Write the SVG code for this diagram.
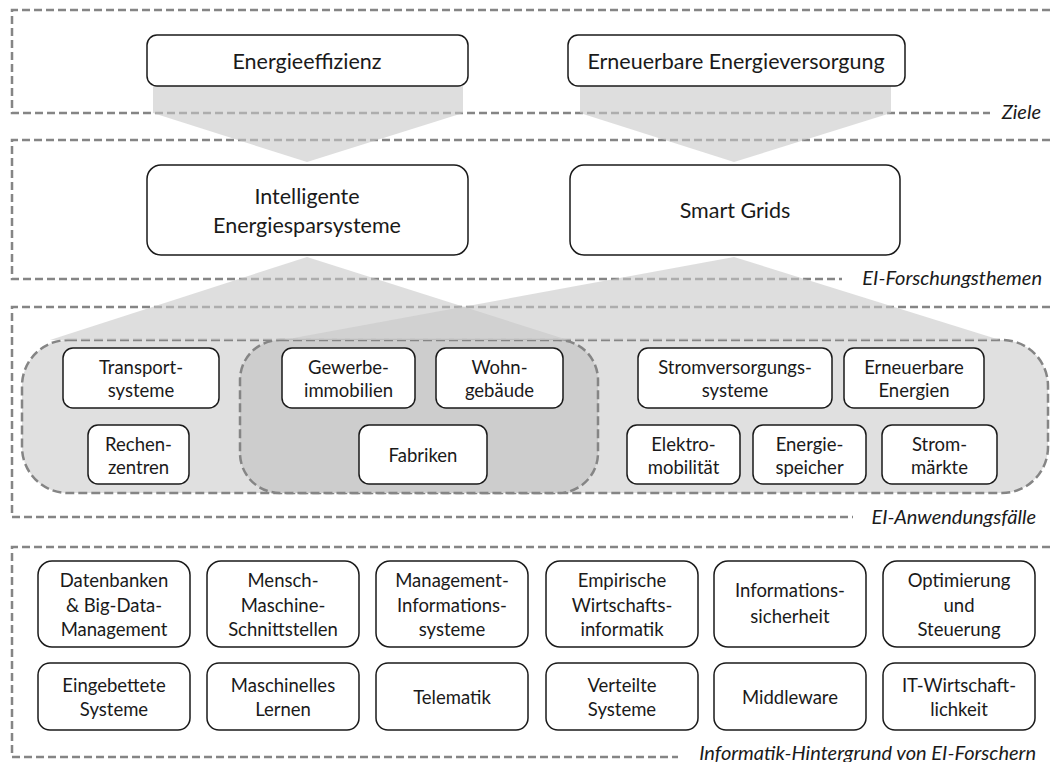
<svg xmlns="http://www.w3.org/2000/svg" width="1050" height="762" viewBox="0 0 1050 762">
<style>
.band{fill:none;stroke:#858585;stroke-width:2.5;stroke-dasharray:8 4}
.cont{stroke:#858585;stroke-width:2.5;stroke-dasharray:9 4}
.box{fill:#fff;stroke:#1a1a1a;stroke-width:1.5}
.flow{fill:#c8c8c8;fill-opacity:0.6}
text{font-family:Lato,"Liberation Sans",sans-serif;fill:#1a1a1a;text-anchor:middle}
.big{font-size:21.5px}
.sm{font-size:18.5px}
.lbl{font-size:20px;font-style:italic;text-anchor:end}
</style>
<rect width="1050" height="762" fill="#fff"/>
<g id="bands">
<path class="band" d="M1050,10 H12 V113 H990"/>
<text class="lbl" x="1041" y="119">Ziele</text>
<path class="band" d="M1050,140 H12 V279 H842"/>
<text class="lbl" x="1042" y="285">EI-Forschungsthemen</text>
<path class="band" d="M1050,307 H12 V517 H853"/>
<text class="lbl" x="1036" y="524">EI-Anwendungsfälle</text>
<path class="band" d="M1050,547 H12 V757 H678"/>
<text class="lbl" x="1036" y="760">Informatik-Hintergrund von EI-Forschern</text>
</g>
<g id="containers">
<rect id="cont-all" class="cont" x="22" y="340" width="1026" height="153" rx="46" fill="#e0e0e0"/>
<rect id="cont-shared" class="cont" x="240" y="340" width="358" height="153" rx="40" fill="#cdcdcd"/>
</g>
<g id="connectors">
<polygon class="flow" points="153,86 463,86 463,113 307,162 153,113"/>
<polygon class="flow" points="580,86 891,86 891,113 734,162 580,113"/>
<polygon class="flow" points="307,257 568,340 50,340"/>
<polygon class="flow" points="734,257 1000,340 283,340"/>
</g>
<g id="n-energieeffizienz"><rect class="box" x="147" y="35" width="321" height="51" rx="10"/><text class="big" x="307" y="69">Energieeffizienz</text></g>
<g id="n-erneuerbare-versorgung"><rect class="box" x="568" y="35" width="337" height="51" rx="10"/><text class="big" x="736" y="69">Erneuerbare Energieversorgung</text></g>
<g id="n-intelligente"><rect class="box" x="147" y="165" width="321" height="90" rx="14"/><text class="big" x="307" y="204">Intelligente</text><text class="big" x="307" y="233">Energiesparsysteme</text></g>
<g id="n-smartgrids"><rect class="box" x="570" y="165" width="330" height="90" rx="14"/><text class="big" x="735" y="218">Smart Grids</text></g>
<g id="n-transport"><rect class="box" x="63" y="348" width="156" height="60" rx="10"/><text class="sm" x="141" y="374">Transport-</text><text class="sm" x="141" y="397">systeme</text></g>
<g id="n-rechen"><rect class="box" x="88" y="425" width="101" height="59" rx="10"/><text class="sm" x="138.5" y="451">Rechen-</text><text class="sm" x="138.5" y="474">zentren</text></g>
<g id="n-gewerbe"><rect class="box" x="282" y="348" width="133" height="60" rx="10"/><text class="sm" x="348.5" y="374">Gewerbe-</text><text class="sm" x="348.5" y="397">immobilien</text></g>
<g id="n-wohn"><rect class="box" x="436" y="348" width="127" height="60" rx="10"/><text class="sm" x="499.5" y="374">Wohn-</text><text class="sm" x="499.5" y="397">gebäude</text></g>
<g id="n-fabriken"><rect class="box" x="359" y="425" width="128" height="59" rx="10"/><text class="sm" x="423" y="461.5">Fabriken</text></g>
<g id="n-stromversorgung"><rect class="box" x="638" y="348" width="194" height="60" rx="10"/><text class="sm" x="735" y="374">Stromversorgungs-</text><text class="sm" x="735" y="397">systeme</text></g>
<g id="n-erneuerbare-energien"><rect class="box" x="844" y="348" width="140" height="60" rx="10"/><text class="sm" x="914" y="374">Erneuerbare</text><text class="sm" x="914" y="397">Energien</text></g>
<g id="n-elektro"><rect class="box" x="627" y="425" width="113" height="59" rx="10"/><text class="sm" x="683.5" y="451">Elektro-</text><text class="sm" x="683.5" y="474">mobilität</text></g>
<g id="n-speicher"><rect class="box" x="753" y="425" width="113" height="59" rx="10"/><text class="sm" x="809.5" y="451">Energie-</text><text class="sm" x="809.5" y="474">speicher</text></g>
<g id="n-strommaerkte"><rect class="box" x="882" y="425" width="115" height="59" rx="10"/><text class="sm" x="939.5" y="451">Strom-</text><text class="sm" x="939.5" y="474">märkte</text></g>
<g id="n-datenbanken"><rect class="box" x="38" y="561" width="152" height="86" rx="14"/><text class="sm" x="114" y="587">Datenbanken</text><text class="sm" x="114" y="611.5">&amp; Big-Data-</text><text class="sm" x="114" y="636">Management</text></g>
<g id="n-mensch"><rect class="box" x="207" y="561" width="152" height="86" rx="14"/><text class="sm" x="283" y="587">Mensch-</text><text class="sm" x="283" y="611.5">Maschine-</text><text class="sm" x="283" y="636">Schnittstellen</text></g>
<g id="n-mis"><rect class="box" x="376" y="561" width="152" height="86" rx="14"/><text class="sm" x="452" y="587">Management-</text><text class="sm" x="452" y="611.5">Informations-</text><text class="sm" x="452" y="636">systeme</text></g>
<g id="n-empirische"><rect class="box" x="546" y="561" width="152" height="86" rx="14"/><text class="sm" x="622" y="587">Empirische</text><text class="sm" x="622" y="611.5">Wirtschafts-</text><text class="sm" x="622" y="636">informatik</text></g>
<g id="n-infosicherheit"><rect class="box" x="714" y="561" width="152" height="86" rx="14"/><text class="sm" x="790" y="597">Informations-</text><text class="sm" x="790" y="623">sicherheit</text></g>
<g id="n-optimierung"><rect class="box" x="883" y="561" width="152" height="86" rx="14"/><text class="sm" x="959" y="587">Optimierung</text><text class="sm" x="959" y="611.5">und</text><text class="sm" x="959" y="636">Steuerung</text></g>
<g id="n-eingebettete"><rect class="box" x="38" y="663" width="152" height="67" rx="12"/><text class="sm" x="114" y="692">Eingebettete</text><text class="sm" x="114" y="716">Systeme</text></g>
<g id="n-ml"><rect class="box" x="207" y="663" width="152" height="67" rx="12"/><text class="sm" x="283" y="692">Maschinelles</text><text class="sm" x="283" y="716">Lernen</text></g>
<g id="n-telematik"><rect class="box" x="376" y="663" width="152" height="67" rx="12"/><text class="sm" x="452" y="704">Telematik</text></g>
<g id="n-verteilte"><rect class="box" x="546" y="663" width="152" height="67" rx="12"/><text class="sm" x="622" y="692">Verteilte</text><text class="sm" x="622" y="716">Systeme</text></g>
<g id="n-middleware"><rect class="box" x="714" y="663" width="152" height="67" rx="12"/><text class="sm" x="790" y="704">Middleware</text></g>
<g id="n-itwirtschaft"><rect class="box" x="883" y="663" width="152" height="67" rx="12"/><text class="sm" x="959" y="692">IT-Wirtschaft-</text><text class="sm" x="959" y="716">lichkeit</text></g>
</svg>
